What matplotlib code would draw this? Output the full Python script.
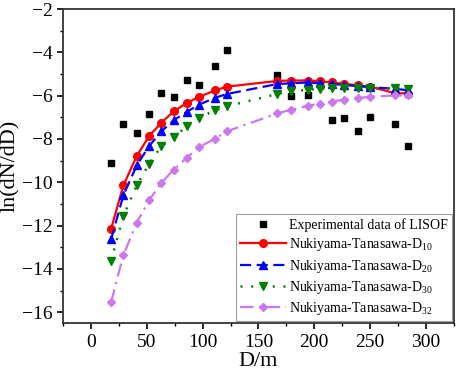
import matplotlib
matplotlib.use('Agg')
import matplotlib.pyplot as plt
import numpy as np

# ------------ DATA ----------------------------
exp_d = [18, 29, 41, 52, 63, 74, 86, 97, 111, 122,
         167, 179, 194, 216, 227, 239, 250, 272, 284]
exp_ln = [-9.11, -7.31, -7.73, -6.84, -5.89, -6.07, -5.26, -5.52, -4.64, -3.91,
          -5.03, -6.03, -5.96, -7.13, -7.04, -7.65, -6.99, -7.31, -8.34]

model_d = [18, 29, 41, 52, 63, 74, 86, 97, 111, 122,
           167, 179, 194, 205, 216, 227, 239, 250, 272, 284]
d10 = [-12.16, -10.14, -8.79, -7.87, -7.25, -6.73, -6.33, -6.05, -5.76, -5.58,
       -5.32, -5.30, -5.30, -5.33, -5.39, -5.46, -5.52, -5.58, -5.88, -5.90]
d20 = [-12.64, -10.60, -9.22, -8.33, -7.65, -7.14, -6.74, -6.41, -6.10, -5.92,
       -5.46, -5.43, -5.39, -5.43, -5.46, -5.50, -5.56, -5.61, -5.68, -5.75]
d30 = [-13.62, -11.56, -10.14, -9.15, -8.33, -7.91, -7.42, -7.02, -6.68, -6.49,
       -5.92, -5.80, -5.73, -5.67, -5.64, -5.64, -5.64, -5.64, -5.66, -5.70]
d32 = [-15.54, -13.36, -11.86, -10.83, -10.03, -9.42, -8.86, -8.37, -7.99, -7.64,
       -6.82, -6.65, -6.47, -6.37, -6.27, -6.18, -6.11, -6.05, -5.99, -5.99]

labels = ['Experimental data of LISOF',
          r'Nukiyama-Tanasawa-D$\mathregular{_{10}}$',
          r'Nukiyama-Tanasawa-D$\mathregular{_{20}}$',
          r'Nukiyama-Tanasawa-D$\mathregular{_{30}}$',
          r'Nukiyama-Tanasawa-D$\mathregular{_{32}}$']

# ------------ DRAW ----------------------------
plt.rcParams['font.family'] = ['Liberation Serif', 'DejaVu Serif']

fig = plt.figure(figsize=(4.57, 3.77), dpi=100)
ax = fig.add_axes([0.138, 0.143, 0.855, 0.833])

ax.plot(exp_d, exp_ln, 's', color='black', markersize=4.5, linestyle='none', label=labels[0])
ax.plot(model_d, d10, '-o', color='red', lw=1.6, markersize=5.5, label=labels[1])
ax.plot(model_d, d20, '--^', color='blue', lw=1.6, markersize=6, dashes=(5, 2.5), label=labels[2])
ax.plot(model_d, d30, ':v', color='green', lw=1.8, markersize=6, dashes=(0.8, 3.5), label=labels[3])
ax.plot(model_d, d32, '-.D', color='#cc77ee', lw=1.6, markersize=4.5, dashes=(6, 2.5, 1, 2.5), label=labels[4])

ax.set_xlim(-25, 325)
ax.set_ylim(-16.5, -2)
ax.set_xticks([0, 50, 100, 150, 200, 250, 300])
ax.set_xticks(np.arange(-25, 326, 50), minor=True)
ax.set_yticks([-16, -14, -12, -10, -8, -6, -4, -2])
ax.set_yticks(np.arange(-15, -2, 2), minor=True)
ax.tick_params(which='major', direction='out', length=4, width=1.2, labelsize=14, colors='black')
ax.tick_params(which='minor', direction='out', length=2.5, width=1.0)

for s in ax.spines.values():
    s.set_linewidth(1.3)
    s.set_color('#333333')

ax.set_xlabel('D/m', fontsize=16, labelpad=1)
ax.set_ylabel('ln(dN/dD)', fontsize=16, labelpad=1)

leg = ax.legend(loc='lower right', fontsize=10, frameon=True, fancybox=False,
                edgecolor='#888888', handlelength=3.3, handletextpad=0.2,
                borderpad=0.3, labelspacing=0.3, borderaxespad=0.15)
leg.get_frame().set_linewidth(0.8)

plt.savefig('out.png', dpi=100)
